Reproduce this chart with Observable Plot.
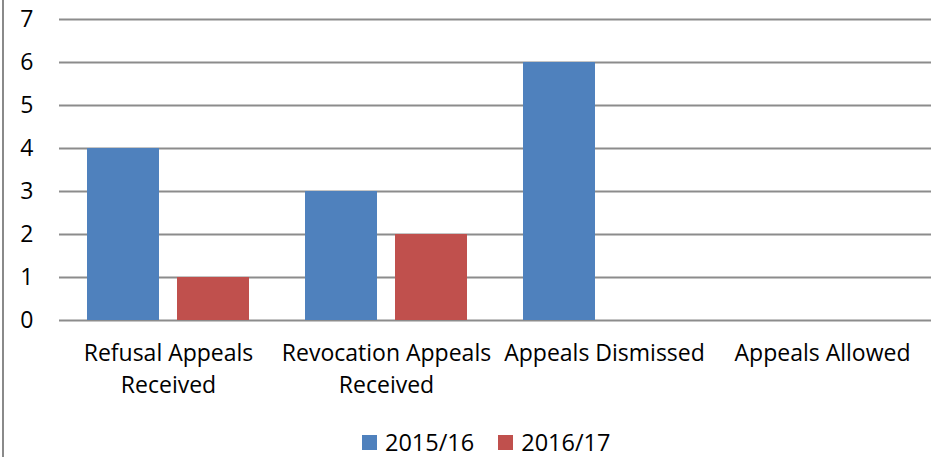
<!DOCTYPE html>
<html>
<head>
<meta charset="utf-8">
<script src="https://cdn.jsdelivr.net/npm/d3@7"></script>
<script src="https://cdn.jsdelivr.net/npm/@observablehq/plot@0.6"></script>
<style>
  html, body { margin: 0; padding: 0; background: #fff; }
  #wrap { position: relative; width: 937px; height: 457px; overflow: hidden; font-family: "Open Sans", sans-serif; }
  #border { position: absolute; left: 2px; top: 0; width: 0; height: 457px; border-left: 2px solid #8a8a8a; }
  #legend { position: absolute; left: 362px; top: 426px; display: flex; align-items: center; font-size: 23.5px; color: #000; }
  .item { display: flex; align-items: center; margin-right: 24px; }
  .sw { width: 15px; height: 15px; margin-right: 8px; }
</style>
</head>
<body>
<div id="wrap">
  <div id="chart"></div>
  <div id="border"></div>
  <div id="legend"></div>
</div>
<script>
const categories = ["Refusal Appeals\nReceived", "Revocation Appeals\nReceived", "Appeals Dismissed", "Appeals Allowed"];
const seriesNames = ["2015/16", "2016/17"];
const values2015 = [4, 3, 6, 0];
const values2016 = [1, 2, 0, 0];
const yTicks = [0, 1, 2, 3, 4, 5, 6, 7];
const colors = ["#4F81BD", "#C0504D"];

const data = [];
categories.forEach((c, i) => {
  data.push({category: c, series: seriesNames[0], value: values2015[i]});
  data.push({category: c, series: seriesNames[1], value: values2016[i]});
});

const chart = Plot.plot({
  width: 937,
  height: 420,
  marginLeft: 58,
  marginRight: 5,
  marginTop: 19,
  marginBottom: 100,
  style: {fontFamily: "'Open Sans', sans-serif", fontSize: "23px", color: "#000", background: "#fff"},
  fx: {domain: categories, padding: 0, axis: null},
  x: {domain: seriesNames, axis: null, paddingInner: 0.198, paddingOuter: 0.3},
  y: {domain: [0, 7], ticks: yTicks, axis: null},
  color: {domain: seriesNames, range: colors},
  marks: [
    Plot.ruleY(yTicks, {stroke: "#8c8c8c", strokeWidth: 2}),
    Plot.barY(data, {fx: "category", x: "series", y: "value", fill: "series"}),
    Plot.axisY({ticks: yTicks, tickFormat: d3.format("d"), tickSize: 0, tickPadding: 26, fontSize: 23, anchor: "left", label: null}),
    Plot.axisFx({anchor: "bottom", tickSize: 0, tickPadding: 18, fontSize: 23, lineHeight: 1.39, label: null})
  ]
});
document.getElementById("chart").appendChild(chart);

const legend = document.getElementById("legend");
seriesNames.forEach((s, i) => {
  const it = document.createElement("div");
  it.className = "item";
  const sw = document.createElement("div");
  sw.className = "sw";
  sw.style.background = colors[i];
  const t = document.createElement("span");
  t.textContent = s;
  it.appendChild(sw);
  it.appendChild(t);
  legend.appendChild(it);
});
</script>
</body>
</html>
